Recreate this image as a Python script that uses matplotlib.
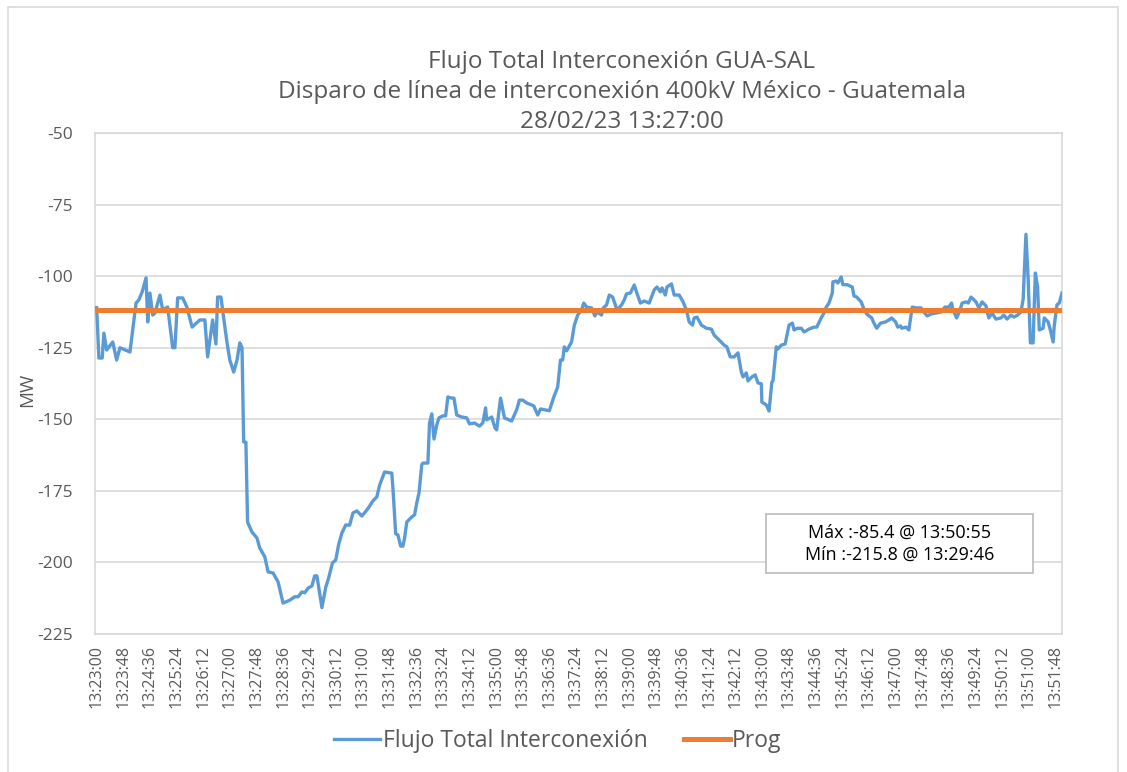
import matplotlib
matplotlib.use("Agg")
import matplotlib.pyplot as plt
from matplotlib.patches import Rectangle
import numpy as np

# ---- data (seconds after 13:23:00, MW) ----
t_sec = [0, 4, 10, 13, 18, 29, 36, 42, 60, 65, 71, 76, 82, 89, 92, 96, 101, 105, 114, 119,
         128, 137, 141, 146, 155, 163, 172, 186, 195, 200, 209, 215, 218, 224, 227, 235, 240,
         247, 253, 258, 262, 265, 269, 272, 280, 289, 294, 303, 309, 318, 327, 336, 348, 357,
         363, 370, 375, 381, 388, 393, 397, 406, 413, 418, 425, 431, 436, 442, 449, 456, 462,
         469, 478, 484, 491, 498, 505, 510, 519, 532, 534, 539, 543, 548, 552, 555, 559, 568,
         573, 577, 581, 586, 588, 597, 600, 604, 608, 613, 617, 624, 629, 633, 640, 644, 649,
         658, 667, 672, 681, 690, 696, 701, 703, 712, 718, 721, 728, 735, 748, 757, 762, 768,
         775, 784, 788, 795, 800, 816, 824, 831, 836, 840, 843, 847, 856, 861, 867, 874, 878,
         883, 892, 898, 902, 910, 913, 919, 924, 930, 938, 946, 951, 955, 962, 969, 973, 980,
         987, 996, 1005, 1010, 1016, 1019, 1025, 1028, 1036, 1041, 1050, 1057, 1063, 1068,
         1074, 1077, 1082, 1090, 1099, 1108, 1113, 1122, 1131, 1136, 1142, 1149, 1156, 1162,
         1165, 1171, 1174, 1181, 1187, 1192, 1198, 1199, 1207, 1212, 1217, 1219, 1225, 1228,
         1234, 1241, 1248, 1254, 1257, 1263, 1270, 1275, 1284, 1293, 1298, 1306, 1311, 1315,
         1320, 1326, 1327, 1333, 1336, 1342, 1345, 1353, 1362, 1365, 1370, 1378, 1383, 1388,
         1397, 1401, 1406, 1413, 1422, 1428, 1433, 1440, 1444, 1449, 1451, 1459, 1464, 1470,
         1477, 1486, 1491, 1497, 1504, 1513, 1522, 1529, 1536, 1541, 1543, 1550, 1555, 1560,
         1567, 1571, 1576, 1580, 1585, 1590, 1596, 1603, 1608, 1614, 1621, 1630, 1635, 1641,
         1648, 1653, 1660, 1666, 1670, 1675, 1679, 1683, 1688, 1690, 1692, 1696, 1699, 1706,
         1708, 1715, 1719, 1724, 1726, 1731, 1735, 1740]
flujo = [-111, -128.6, -128.6, -119.9, -125.8, -123, -129.3, -125, -126.5, -118.8, -109.4,
         -108.3, -105.5, -100.6, -116, -105.9, -113.6, -112.9, -106.6, -111.8, -110.8, -125,
         -125, -107.6, -107.6, -111, -117.8, -115.3, -115.3, -128.2, -115.3, -123.7, -107.3,
         -107.3, -111.8, -123.3, -129.3, -133.5, -129.3, -123.3, -125, -157.9, -158, -185.9,
         -189.4, -191.5, -195, -198, -203.3, -203.7, -206.8, -214.2, -213.2, -212, -212,
         -210.3, -210.6, -209, -208.2, -204.7, -204.7, -215.8, -208.6, -205.5, -200.2, -199.1,
         -193.9, -189.7, -186.9, -187, -182.7, -182, -183.8, -182.4, -180.6, -178.5, -177.1,
         -173, -168.4, -168.8, -174, -190, -190.4, -194.3, -194.3, -191.5, -185.9, -184.1,
         -183.4, -179.2, -175.7, -165.9, -165.3, -165.3, -151.3, -148.1, -156.9, -152, -149.5,
         -148.8, -148.8, -142.2, -142.6, -142.6, -148.5, -149.2, -149.5, -151.6, -151.3,
         -152.4, -151.3, -146, -150.2, -149.2, -153, -153.7, -142.6, -149.5, -150.6, -146.7,
         -143.3, -143.3, -144.3, -145, -145.4, -148.5, -146.4, -147, -142.2, -138.7, -129.3,
         -129.3, -124.7, -126.1, -123, -117.1, -113.6, -111.8, -109.4, -110.8, -111.1, -113.9,
         -112.5, -113.6, -111.1, -110.1, -106.6, -107.3, -111.8, -110.1, -108.3, -106.2,
         -105.9, -103.1, -105.5, -109.4, -108.7, -109.4, -104.8, -103.8, -105.5, -104.1,
         -106.6, -103.8, -102.7, -106.6, -106.6, -109, -111.8, -116, -117.1, -114.6, -114.3,
         -117.1, -118.2, -118.5, -120.6, -122.3, -124.1, -124.7, -128.2, -128.2, -126.8,
         -133.5, -135.2, -133.8, -136.6, -135.2, -134.5, -137.3, -137.6, -144, -145, -147.1,
         -137, -136.6, -124.7, -125.4, -124.1, -123.7, -117.1, -116.4, -118.8, -118.2, -118.2,
         -119.5, -118.5, -117.8, -117.8, -114.6, -112.9, -110.8, -109.4, -105.9, -102, -101.7,
         -102.4, -100.3, -103, -103, -103.8, -106.9, -107.3, -109, -111.5, -113.2, -114.6,
         -116.4, -118.2, -116.4, -116, -115.3, -114.6, -116, -117.8, -117.4, -118.2, -117.8,
         -118.8, -110.8, -111.1, -111.1, -112.5, -113.9, -113.2, -112.9, -112.5, -110.8,
         -110.8, -109.4, -111.5, -114.6, -112.5, -109.4, -109, -109.4, -107.3, -108, -109,
         -111.1, -109, -110.4, -114.6, -112.9, -115, -114.6, -113.6, -115, -113.6, -114.3,
         -113.6, -112.5, -108, -85.4, -101, -123.3, -123.3, -110, -98.9, -103.8, -118.8,
         -118.2, -114.6, -116, -118.8, -123, -117.4, -110, -109.4, -105.9]
prog_value = -111.8

tick_step = 48
tick_count = 37
y_ticks = [-50, -75, -100, -125, -150, -175, -200, -225]

title_lines = ["Flujo Total Interconexión GUA-SAL",
               "Disparo de línea de interconexión 400kV México - Guatemala",
               "28/02/23 13:27:00"]
annot_lines = ["Máx :-85.4 @ 13:50:55", "Mín :-215.8 @ 13:29:46"]

# ---- figure ----
W, H = 1127, 772
fig = plt.figure(figsize=(W / 100, H / 100), dpi=100)
FONT = ["Open Sans", "DejaVu Sans"]
TXT = "#595959"
GRID = "#d9d9d9"

def fx(px):
    return px / W

def fy(py):
    return 1 - py / H

# chart area border
fig.patches.append(Rectangle((fx(8), fy(790)), fx(1118) - fx(8), fy(7) - fy(790),
                             transform=fig.transFigure, fill=False, edgecolor=GRID, lw=1.2))

ax = fig.add_axes([fx(95), fy(634), fx(1062) - fx(95), fy(133) - fy(634)])

t = np.array(t_sec, dtype=float)
ax.plot(t, flujo, color="#5B9BD5", lw=2.4, solid_joinstyle="round",
        label="Flujo Total Interconexión", zorder=3)
ax.plot([-3, 1740], [prog_value, prog_value], color="#ED7D31", lw=3.6,
        label="Prog", zorder=4)

ax.set_xlim(-3, 1740)
ax.set_ylim(-225, -50)
ax.set_yticks(y_ticks)
ax.set_yticklabels([str(v) for v in y_ticks], fontfamily=FONT, fontsize=12.5, color=TXT)

ticks = [i * tick_step for i in range(tick_count)]
labels = []
for s in ticks:
    tot = 13 * 3600 + 23 * 60 + s
    labels.append(f"{tot // 3600}:{(tot % 3600) // 60:02d}:{tot % 60:02d}")
ax.set_xticks(ticks)
ax.set_xticklabels(labels, rotation=90, fontfamily=FONT, fontsize=11.5, color=TXT)
ax.tick_params(axis="x", length=0, pad=8)
ax.tick_params(axis="y", length=0, pad=16)

ax.grid(axis="y", color=GRID, lw=1.2)
for sp in ax.spines.values():
    sp.set_color(GRID)
    sp.set_linewidth(1.2)

fig.text(fx(27), fy(390), "MW", rotation=90, ha="center", va="center",
         fontfamily=FONT, fontsize=13.5, color=TXT)

for i, line in enumerate(title_lines):
    fig.text(fx(622), fy(62 + 30 * i), line, ha="center", va="center",
             fontfamily=FONT, fontsize=17.5, color=TXT)

# annotation box
fig.patches.append(Rectangle((fx(766), fy(573)), fx(1033) - fx(766), fy(514) - fy(573),
                             transform=fig.transFigure, facecolor="white",
                             edgecolor="#bfbfbf", lw=1.3, zorder=5))
for i, line in enumerate(annot_lines):
    fig.text(fx(900), fy(533 + 22 * i), line, ha="center", va="center",
             fontfamily=FONT, fontsize=13, color="#000000", zorder=6)

leg = fig.legend(loc="center", bbox_to_anchor=(fx(558), fy(741)), ncol=2, frameon=False,
                 prop={"family": FONT, "size": 16.5}, handlelength=2.0, handletextpad=0.1,
                 columnspacing=1.6)
for txt in leg.get_texts():
    txt.set_color(TXT)

fig.savefig("out.png", dpi=100)
